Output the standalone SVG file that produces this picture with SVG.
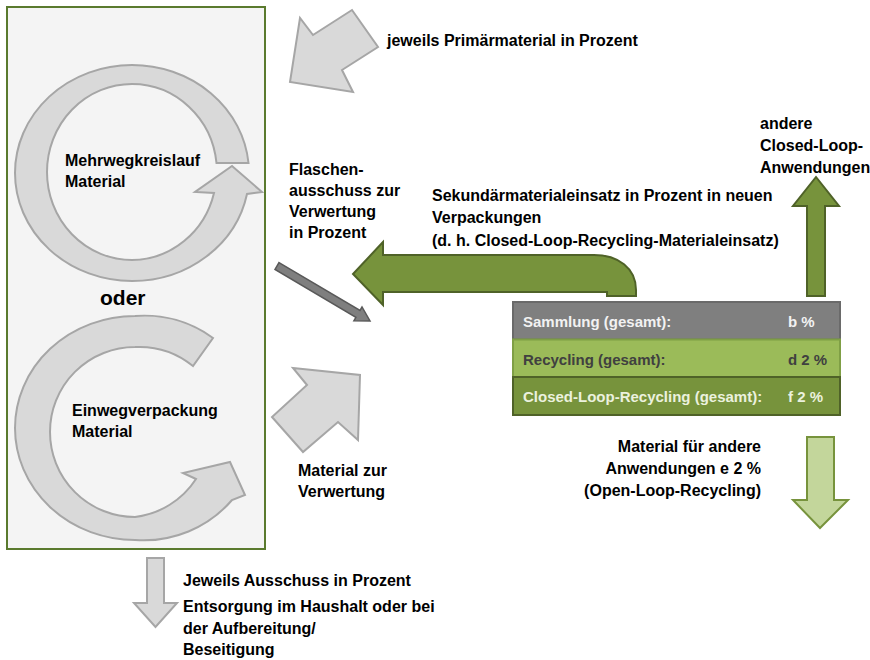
<svg xmlns="http://www.w3.org/2000/svg" width="870" height="660" viewBox="0 0 870 660">
<style>
text{font-family:"Liberation Sans",Arial,sans-serif;font-weight:bold;font-size:16px;fill:#000}
.tb{font-size:15px}
.gray{fill:#d9d9d9;stroke:#a6a6a6;stroke-width:2;stroke-linejoin:miter}
.green{fill:#77933c;stroke:#4f6228;stroke-width:2}
.lgreen{fill:#c3d69b;stroke:#77933c;stroke-width:2}
</style>
<rect width="870" height="660" fill="#ffffff"/>
<g id="main-box">
<rect x="7" y="7" width="258" height="542" fill="#f4f4f4" stroke="#5a7a2e" stroke-width="2"/>
</g>
<g id="ring-mehrweg">
<path class="gray" d="M 248.5,163 A 117 108 0 0 0 132,65 A 117 108 0 0 0 15,173 A 117 108 0 0 0 132,281 A 117 108 0 0 0 247,194 L 262,192 L 232,166 L 195,192 L 214,193 A 85 88 0 0 1 132,260 A 85 88 0 0 1 47,172 A 85 88 0 0 1 132,84 A 85 88 0 0 1 216.5,163 Z"/>
<text x="65" y="166">Mehrwegkreislauf</text>
<text x="65" y="187">Material</text>
</g>
<g id="oder"><text x="100" y="305" style="font-size:21px">oder</text></g>
<g id="ring-einweg">
<path class="gray" d="M 213,338 A 115 112 0 0 0 135,316 A 120 112 0 0 0 15,428 A 120 112 0 0 0 135,540 A 115 112 0 0 0 232,500 L 245,495 L 230,462 L 183,473 L 196,479 A 85 85 0 0 1 135,517 A 85 85 0 0 1 50,432 A 85 85 0 0 1 135,347 A 85 85 0 0 1 193,366 Z"/>
<text x="72" y="416">Einwegverpackung</text>
<text x="72" y="437">Material</text>
</g>
<g id="table">
<rect x="513" y="302" width="327" height="37.5" fill="#7f7f7f" stroke="#6a6a6a" stroke-width="2"/>
<rect x="513" y="339.5" width="327" height="37.5" fill="#9bbb59" stroke="#7f9f45" stroke-width="2"/>
<rect x="513" y="377" width="327" height="38" fill="#77933c" stroke="#4f6228" stroke-width="2"/>
<text class="tb" x="523" y="327" style="fill:#f2f2f2">Sammlung (gesamt):</text>
<text class="tb" x="788" y="327" style="fill:#f2f2f2">b %</text>
<text class="tb" x="523" y="365" style="fill:#404040">Recycling (gesamt):</text>
<text class="tb" x="788" y="365" style="fill:#404040">d 2 %</text>
<text class="tb" x="523" y="402" style="fill:#ebf1de">Closed-Loop-Recycling (gesamt):</text>
<text class="tb" x="788" y="402" style="fill:#ebf1de">f 2 %</text>
</g>
<g id="labels">
<text x="387" y="46">jeweils Primärmaterial in Prozent</text>
<text x="289" y="175">Flaschen-</text>
<text x="289" y="196">ausschuss zur</text>
<text x="289" y="217">Verwertung</text>
<text x="289" y="238">in Prozent</text>
<text x="432" y="201">Sekundärmaterialeinsatz in Prozent in neuen</text>
<text x="432" y="223">Verpackungen</text>
<text x="432" y="246">(d. h. Closed-Loop-Recycling-Materialeinsatz)</text>
<text x="760" y="129">andere</text>
<text x="760" y="151">Closed-Loop-</text>
<text x="760" y="173">Anwendungen</text>
<text x="761" y="452" text-anchor="end">Material für andere</text>
<text x="761" y="474" text-anchor="end">Anwendungen e 2 %</text>
<text x="761" y="496" text-anchor="end">(Open-Loop-Recycling)</text>
<text x="298" y="476">Material zur</text>
<text x="298" y="497">Verwertung</text>
<text x="183" y="586">Jeweils Ausschuss in Prozent</text>
<text x="183" y="612">Entsorgung im Haushalt oder bei</text>
<text x="183" y="634">der Aufbereitung/</text>
<text x="183" y="655">Beseitigung</text>
</g>
<g id="connectors">
<polygon class="gray" points="290,82 300,18 313,35 352,10 378,47 342,70 353,92"/>
<polygon class="gray" points="360,375 358,440 338,422 303,452 272,417 307,385 293,368"/>
<polygon class="gray" points="147,558 164,558 164,603 177,603 155.5,627 134,603 147,603"/>
<polygon points="279,262.6 360,310.4 362,307 370,321 353.9,320.8 355.9,317.3 275,269.4" fill="#7f7f7f" stroke="#595959" stroke-width="1.5"/>
<path class="green" d="M 383,242 L 353,274 L 383,305 L 383,292 L 607,292 L 607,296 L 636,296 L 636,290 C 636,268 618,255 594,255 L 383,255 Z"/>
<polygon class="green" points="807,296 825,296 825,206 839,206 816,177 793,206 807,206"/>
<polygon class="lgreen" points="807,437 834,437 834,500 848,500 820,528 793,500 807,500"/>
</g>
</svg>
